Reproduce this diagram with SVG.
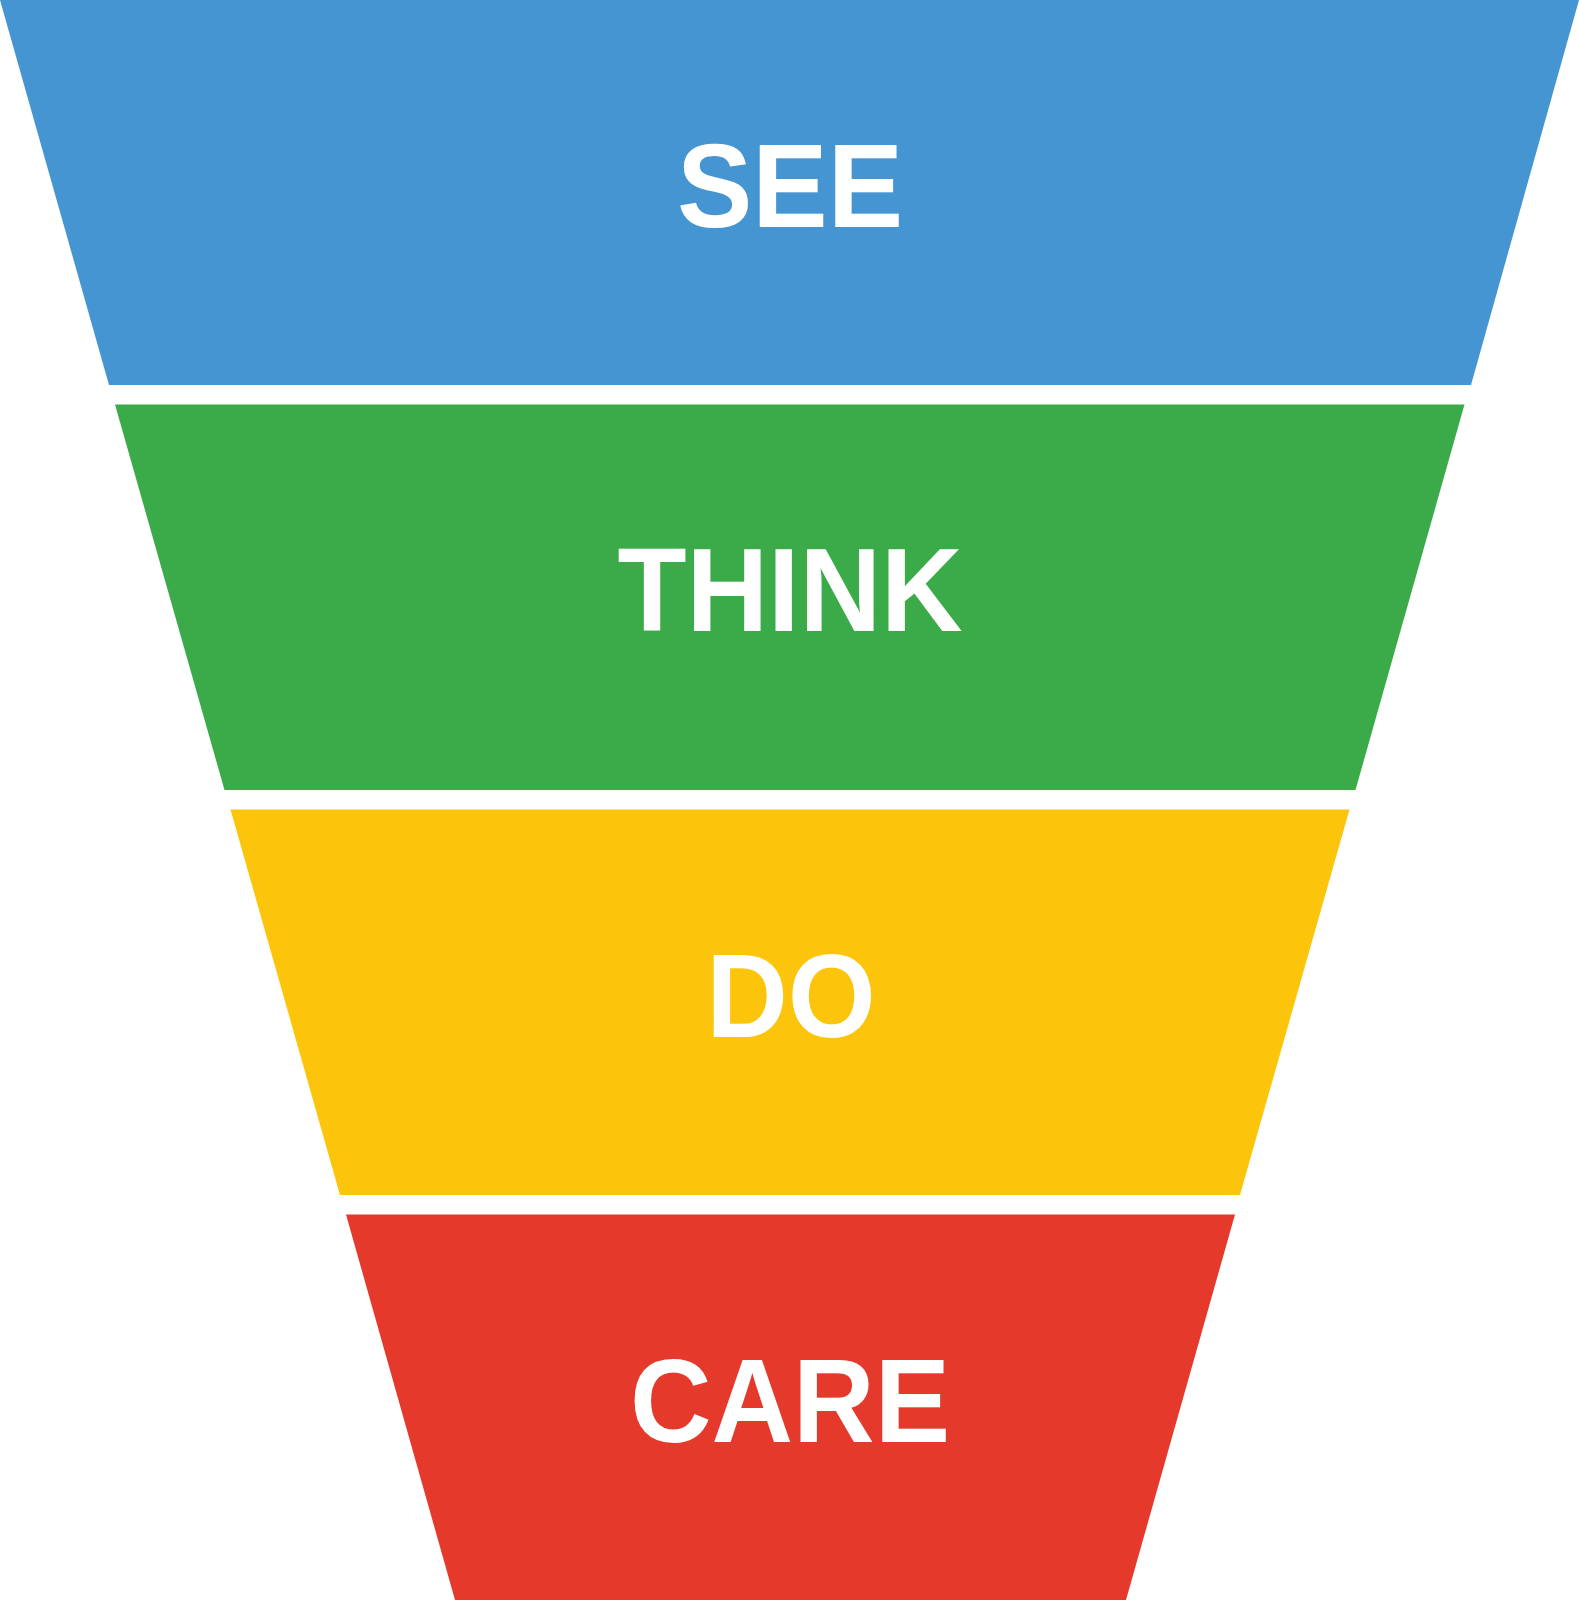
<svg xmlns="http://www.w3.org/2000/svg" width="1579" height="1600" viewBox="0 0 1579 1600">
<style>
.lbl{font-family:"Liberation Sans",Arial,sans-serif;font-weight:bold;font-size:113px;fill:#ffffff;text-anchor:middle}
</style>
<rect x="0" y="0" width="1579" height="1600" fill="#ffffff"/>
<g id="see">
<polygon points="0,0 1579,0 1471,385 109,385" fill="#4495d1"/>
<text class="lbl" transform="translate(790,226.5) scale(1,1.05)">SEE</text>
</g>
<g id="think">
<polygon points="115,404.5 1464.5,404.5 1355.5,790 224.5,790" fill="#3aab48"/>
<text class="lbl" transform="translate(790,630.5) scale(1,1.05)">THINK</text>
</g>
<g id="do">
<polygon points="230.5,809.5 1349.5,809.5 1240,1195 340,1195" fill="#fcc40a"/>
<text class="lbl" transform="translate(791,1036.5) scale(1,1.05)">DO</text>
</g>
<g id="care">
<polygon points="346,1214.5 1235,1214.5 1126,1600 455,1600" fill="#e5392c"/>
<text class="lbl" transform="translate(790,1441.5) scale(1,1.05)">CARE</text>
</g>
<g id="connectors"/>
</svg>
